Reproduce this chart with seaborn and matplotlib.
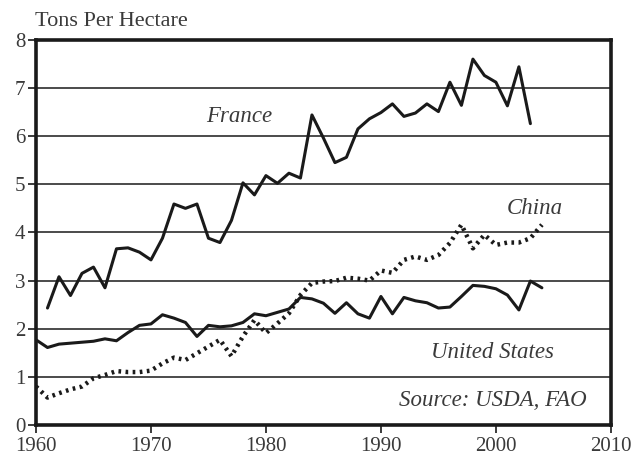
import pandas as pd
import numpy as np
import matplotlib.pyplot as plt
import seaborn as sns

# Data (tons per hectare)
years = list(range(1960, 2005))
france = [np.nan, 2.43, 3.08, 2.69, 3.15, 3.28, 2.85, 3.66, 3.68, 3.59,
          3.43, 3.88, 4.59, 4.50, 4.59, 3.88, 3.79, 4.25, 5.03, 4.78,
          5.18, 5.02, 5.23, 5.13, 6.44, 5.96, 5.45, 5.56, 6.15, 6.36,
          6.49, 6.67, 6.41, 6.48, 6.67, 6.51, 7.12, 6.64, 7.60, 7.26,
          7.12, 6.63, 7.44, 6.26, np.nan]
us = [1.77, 1.61, 1.68, 1.70, 1.72, 1.74, 1.79, 1.75, 1.92, 2.07,
      2.10, 2.29, 2.22, 2.13, 1.84, 2.07, 2.04, 2.06, 2.13, 2.31,
      2.27, 2.34, 2.41, 2.65, 2.62, 2.53, 2.32, 2.54, 2.31, 2.22,
      2.67, 2.31, 2.65, 2.58, 2.54, 2.43, 2.45, 2.67, 2.90, 2.88,
      2.83, 2.70, 2.39, 2.99, 2.85]
china = [0.80, 0.57, 0.66, 0.74, 0.80, 0.97, 1.04, 1.12, 1.10, 1.10,
         1.13, 1.28, 1.40, 1.35, 1.49, 1.63, 1.77, 1.43, 1.84, 2.18,
         1.91, 2.11, 2.32, 2.70, 2.95, 2.98, 2.99, 3.06, 3.04, 3.00,
         3.21, 3.16, 3.43, 3.50, 3.43, 3.53, 3.78, 4.16, 3.67, 3.95,
         3.74, 3.79, 3.79, 3.88, 4.16]

df = pd.DataFrame({'Year': years, 'France': france, 'United States': us, 'China': china})

sns.set_style('white')
plt.rcParams['font.family'] = ['Liberation Serif', 'DejaVu Serif']

fig = plt.figure(figsize=(6.37, 4.58), dpi=100)
ax = fig.add_axes([0.0565, 0.072, 0.9025, 0.841])

sns.lineplot(data=df, x='Year', y='France', ax=ax, color='#1a1a1a', linewidth=2.2)
sns.lineplot(data=df, x='Year', y='United States', ax=ax, color='#1a1a1a', linewidth=2.2)
sns.lineplot(data=df, x='Year', y='China', ax=ax, color='#1a1a1a', linewidth=3.2,
             linestyle=(0, (0.6, 1.0)))

ax.set_xlim(1960, 2010)
ax.set_ylim(0, 8)
ax.set_xticks(range(1960, 2011, 10))
ax.set_yticks(range(0, 9))
ax.yaxis.grid(True, color='#1a1a1a', linewidth=1.1)
ax.set_axisbelow(True)
ax.set_xlabel('')
ax.set_ylabel('')
for s in ax.spines.values():
    s.set_color('#1a1a1a')
    s.set_linewidth(2.6)
ax.tick_params(axis='both', which='both', direction='out', length=6, width=1.2,
               color='#1a1a1a', labelsize=15, labelcolor='#3a3a3a', pad=1)
ax.tick_params(axis='x', bottom=True, pad=2.5)
ax.tick_params(axis='y', left=True, pad=1.5)

fs = 16.5
ax.text(1977.7, 6.4, 'France', style='italic', fontsize=fs, color='#3a3a3a', ha='center', va='center')
ax.text(2003.4, 4.5, 'China', style='italic', fontsize=fs, color='#3a3a3a', ha='center', va='center')
ax.text(1999.7, 1.5, 'United States', style='italic', fontsize=fs, color='#3a3a3a', ha='center', va='center')
ax.text(1999.7, 0.5, 'Source: USDA, FAO', style='italic', fontsize=fs, color='#3a3a3a', ha='center', va='center')
fig.text(0.055, 0.952, 'Tons Per Hectare', fontsize=16, color='#3a3a3a', ha='left', va='center')

fig.savefig('out.png', dpi=100, facecolor='white')
